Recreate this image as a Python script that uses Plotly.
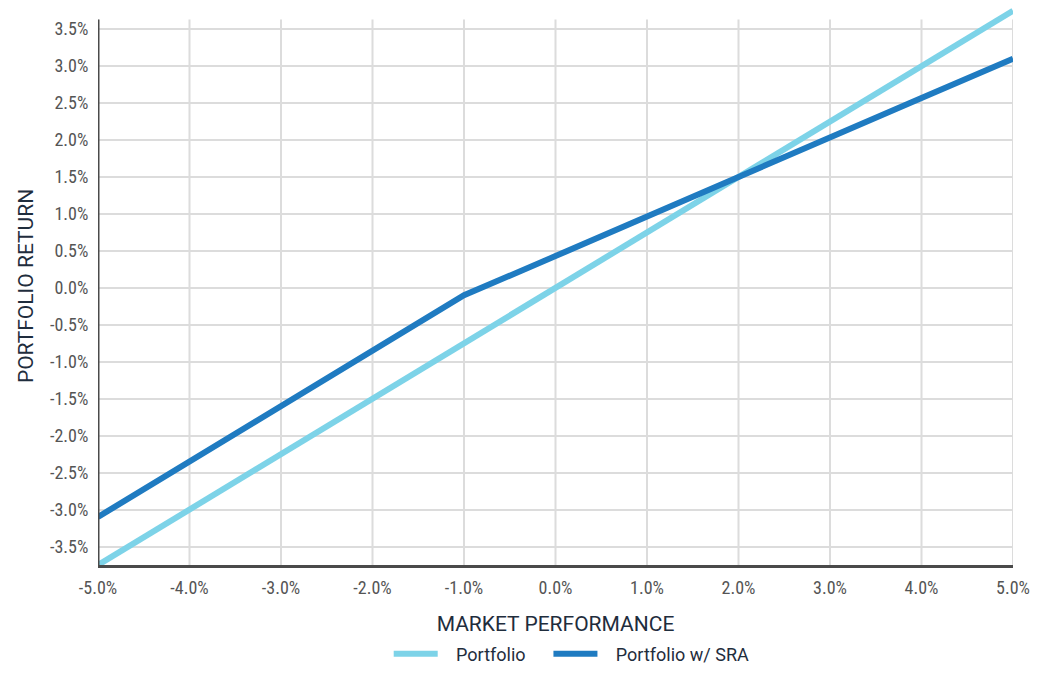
import plotly.graph_objects as go

market = [-5, -4, -3, -2, -1, 0, 1, 2, 3, 4, 5]
portfolio = [-3.75, -3.0, -2.25, -1.5, -0.75, 0.0, 0.75, 1.5, 2.25, 3.0, 3.75]
portfolio_sra = [-3.1, -2.35, -1.6, -0.85, -0.1, 0.43, 0.97, 1.5, 2.03, 2.57, 3.1]

x_ticks = [-5, -4, -3, -2, -1, 0, 1, 2, 3, 4, 5]
x_tick_labels = ["-5.0%", "-4.0%", "-3.0%", "-2.0%", "-1.0%", "0.0%",
                 "1.0%", "2.0%", "3.0%", "4.0%", "5.0%"]
y_ticks = [-3.5, -3.0, -2.5, -2.0, -1.5, -1.0, -0.5, 0.0,
           0.5, 1.0, 1.5, 2.0, 2.5, 3.0, 3.5]
y_tick_labels = [f"{v:.1f}%" for v in y_ticks]

LIGHT = "#7dd3e8"
DARK = "#1f7bc1"
AXIS = "#4a4a4a"
GRID = "#dcdcdc"
TEXT = "#1f2d3d"
TICK = "#555555"
Y_MIN, Y_MAX, GRID_TOP = -3.75, 3.8, 3.63
TICK_FONT = "Roboto Condensed, Liberation Sans Narrow, Roboto, sans-serif"
PAD = "\u00a0"

fig = go.Figure()
fig.add_trace(go.Scatter(x=market, y=portfolio, mode="lines",
                         name=PAD * 3 + "Portfolio" + PAD * 4,
                         line=dict(color=LIGHT, width=6)))
fig.add_trace(go.Scatter(x=market, y=portfolio_sra, mode="lines",
                         name=PAD * 3 + "Portfolio w/ SRA",
                         line=dict(color=DARK, width=6)))

shapes = []
for xv in x_ticks:
    shapes.append(dict(type="line", xref="x", yref="y", x0=xv, x1=xv, y0=Y_MIN, y1=GRID_TOP,
                       line=dict(color=GRID, width=2), layer="below"))
shapes.append(dict(type="line", xref="x", yref="y", x0=-5, x1=-5, y0=Y_MIN, y1=GRID_TOP,
                   line=dict(color=AXIS, width=3), layer="above"))
fig.update_layout(shapes=shapes)

fig.update_layout(
    width=1049, height=676,
    margin=dict(l=98, r=36, t=7, b=111, autoexpand=False),
    paper_bgcolor="white", plot_bgcolor="white",
    font=dict(family=TICK_FONT, color=TICK),
    xaxis=dict(range=[-5, 5], tickvals=x_ticks, ticktext=x_tick_labels,
               showgrid=False, zeroline=False, showline=True, linecolor=AXIS, linewidth=3,
               ticks="outside", ticklen=4, tickcolor="rgba(0,0,0,0)",
               tickfont=dict(size=18, color=TICK),
               title=dict(text="MARKET PERFORMANCE", standoff=22,
                          font=dict(family="Roboto, sans-serif", size=21, color=TEXT))),
    yaxis=dict(range=[Y_MIN, Y_MAX], tickvals=y_ticks, ticktext=y_tick_labels,
               showgrid=True, gridcolor=GRID, gridwidth=2, zeroline=False, showline=False,
               ticks="outside", ticklen=5, tickcolor="rgba(0,0,0,0)",
               tickfont=dict(size=18, color=TICK),
               title=dict(text="PORTFOLIO RETURN", standoff=10,
                          font=dict(family="Roboto, sans-serif", size=21, color=TEXT))),
    legend=dict(orientation="h", x=0.545, xanchor="center", xref="container",
                y=0.005, yanchor="bottom", yref="container",
                font=dict(family="Roboto, sans-serif", size=18, color=TEXT),
                itemwidth=44, traceorder="normal"),
    showlegend=True,
)

fig.write_html("out.html")
